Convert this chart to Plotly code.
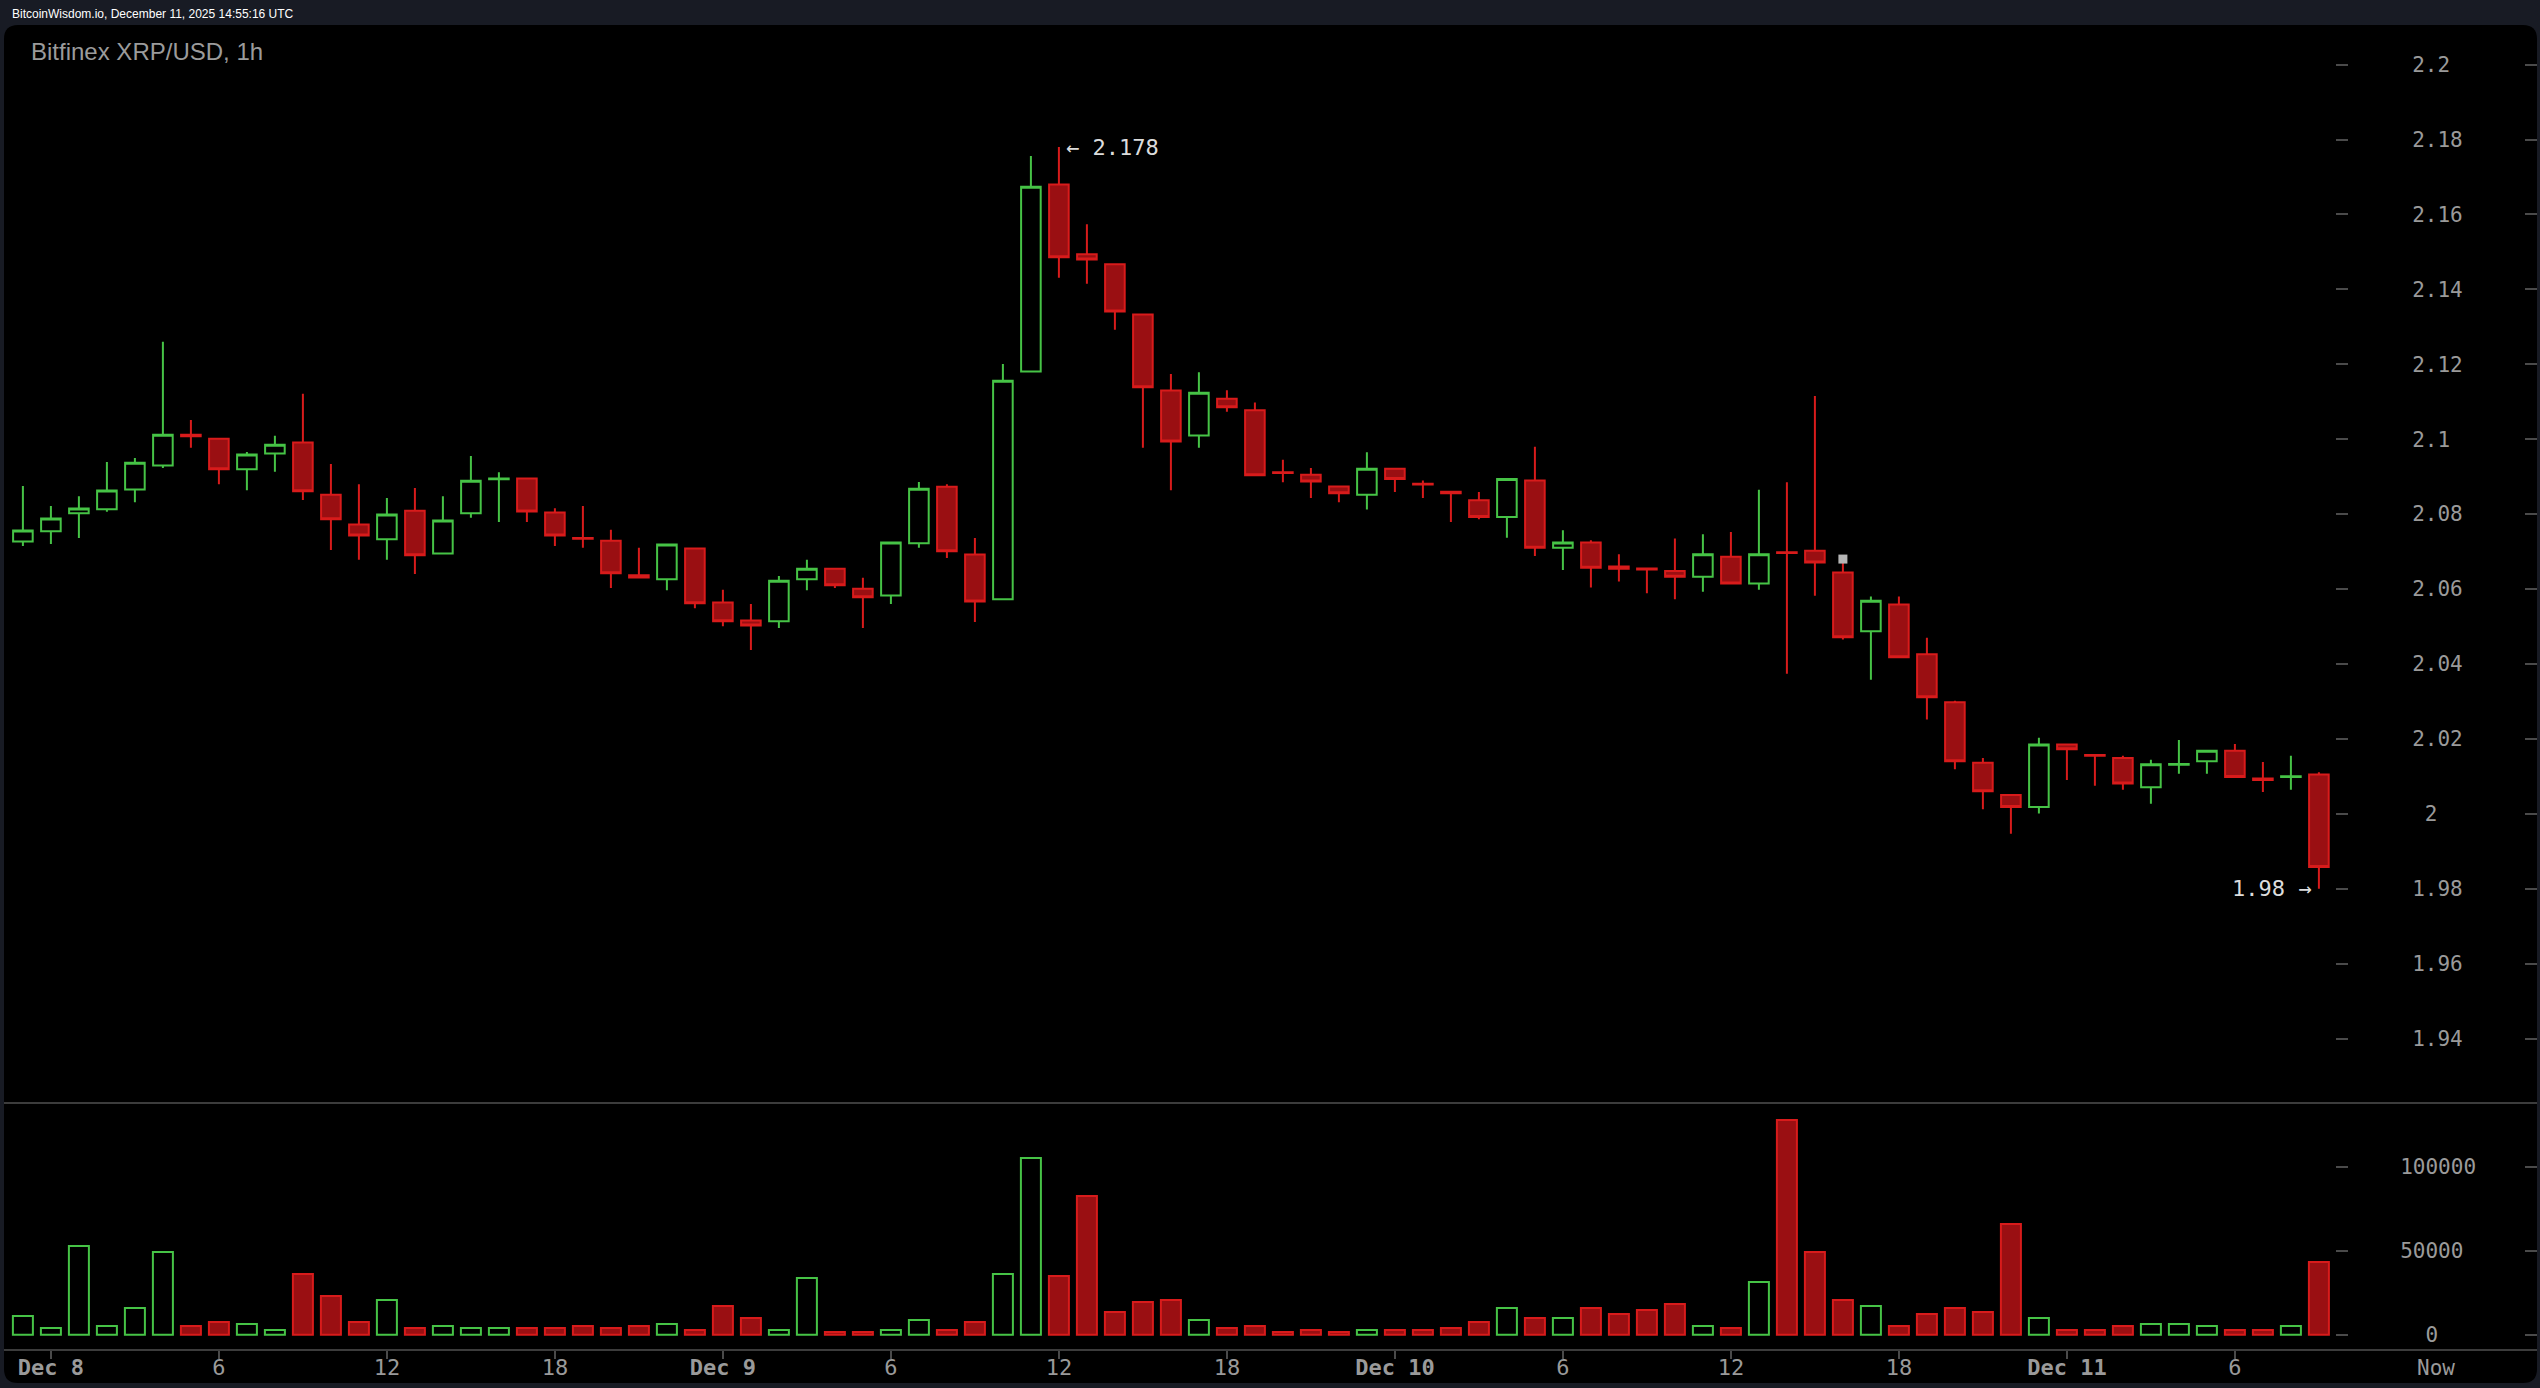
import plotly.graph_objects as go
import pandas as pd

# ---------------- data ----------------
START = "2025-12-07 23:00"
opens = [2.0727, 2.0754, 2.0802, 2.0813, 2.0866, 2.0930, 2.1012, 2.1001, 2.0920, 2.0962,
         2.0991, 2.0852, 2.0772, 2.0733, 2.0809, 2.0695, 2.0802, 2.0893, 2.0895, 2.0804,
         2.0736, 2.0729, 2.0637, 2.0626, 2.0708, 2.0564, 2.0516, 2.0514, 2.0626, 2.0654,
         2.0601, 2.0583, 2.0722, 2.0873, 2.0692, 2.0573, 2.1181, 2.1680, 2.1494, 2.1467,
         2.1333, 2.1130, 2.1010, 2.1108, 2.1077, 2.0912, 2.0905, 2.0874, 2.0852, 2.0921,
         2.0881, 2.0860, 2.0837, 2.0792, 2.0890, 2.0710, 2.0724, 2.0660, 2.0655, 2.0648,
         2.0633, 2.0686, 2.0615, 2.0698, 2.0702, 2.0644, 2.0487, 2.0559, 2.0426, 2.0298,
         2.0136, 2.0050, 2.0018, 2.0185, 2.0157, 2.0149, 2.0071, 2.0131, 2.0140, 2.0168,
         2.0094, 2.0098, 2.0105]
highs = [2.0875, 2.0822, 2.0848, 2.0939, 2.0950, 2.1260, 2.1051, 2.1001, 2.0966, 2.1009,
         2.1121, 2.0934, 2.0880, 2.0843, 2.0870, 2.0848, 2.0955, 2.0912, 2.0896, 2.0816,
         2.0822, 2.0758, 2.0710, 2.0719, 2.0709, 2.0598, 2.0560, 2.0635, 2.0678, 2.0655,
         2.0630, 2.0725, 2.0886, 2.0880, 2.0736, 2.1201, 2.1756, 2.1780, 2.1574, 2.1468,
         2.1334, 2.1174, 2.1179, 2.1131, 2.1098, 2.0945, 2.0923, 2.0875, 2.0965, 2.0922,
         2.0890, 2.0861, 2.0859, 2.0894, 2.0980, 2.0757, 2.0730, 2.0693, 2.0656, 2.0735,
         2.0746, 2.0752, 2.0865, 2.0885, 2.1115, 2.0684, 2.0580, 2.0580, 2.0470, 2.0302,
         2.0149, 2.0051, 2.0203, 2.0186, 2.0158, 2.0155, 2.0144, 2.0197, 2.0169, 2.0186,
         2.0138, 2.0155, 2.0111]
lows = [2.0715, 2.0720, 2.0736, 2.0806, 2.0832, 2.0923, 2.0977, 2.0880, 2.0864, 2.0913,
        2.0838, 2.0704, 2.0678, 2.0678, 2.0640, 2.0693, 2.0790, 2.0779, 2.0779, 2.0715,
        2.0710, 2.0603, 2.0630, 2.0597, 2.0549, 2.0501, 2.0437, 2.0496, 2.0597, 2.0603,
        2.0496, 2.0560, 2.0710, 2.0683, 2.0512, 2.0572, 2.1180, 2.1431, 2.1415, 2.1292,
        2.0977, 2.0864, 2.0977, 2.1073, 2.0903, 2.0885, 2.0843, 2.0832, 2.0812, 2.0859,
        2.0843, 2.0779, 2.0786, 2.0737, 2.0688, 2.0651, 2.0604, 2.0620, 2.0589, 2.0573,
        2.0593, 2.0615, 2.0598, 2.0374, 2.0582, 2.0465, 2.0358, 2.0418, 2.0252, 2.0119,
        2.0012, 1.9947, 2.0001, 2.0090, 2.0075, 2.0064, 2.0027, 2.0107, 2.0107, 2.0097,
        2.0058, 2.0064, 1.9800]
closes = [2.0756, 2.0788, 2.0815, 2.0863, 2.0937, 2.1012, 2.1008, 2.0920, 2.0959, 2.0985,
          2.0861, 2.0786, 2.0743, 2.0799, 2.0690, 2.0783, 2.0889, 2.0895, 2.0807, 2.0743,
          2.0734, 2.0642, 2.0631, 2.0719, 2.0562, 2.0514, 2.0503, 2.0622, 2.0654, 2.0610,
          2.0578, 2.0724, 2.0868, 2.0701, 2.0567, 2.1156, 2.1674, 2.1486, 2.1480, 2.1341,
          2.1139, 2.0994, 2.1124, 2.1085, 2.0904, 2.0910, 2.0887, 2.0856, 2.0921, 2.0894,
          2.0879, 2.0856, 2.0792, 2.0894, 2.0710, 2.0724, 2.0657, 2.0654, 2.0652, 2.0633,
          2.0693, 2.0615, 2.0693, 2.0696, 2.0671, 2.0471, 2.0569, 2.0418, 2.0311, 2.0140,
          2.0060, 2.0018, 2.0185, 2.0172, 2.0155, 2.0081, 2.0132, 2.0133, 2.0168, 2.0098,
          2.0090, 2.0100, 1.9858]
volumes = [11100, 3970, 52770, 5160, 15870, 49200, 5160, 7540, 6350, 2780,
           36110, 23010, 7540, 20630, 3970, 5160, 3970, 3970, 3970, 3970,
           5160, 3970, 5160, 6350, 2780, 17060, 9920, 2780, 33730, 1590,
           1590, 2780, 8730, 2780, 7540, 36110, 105150, 34920, 82530, 13490,
           19440, 20630, 8730, 3970, 5160, 1590, 2780, 1590, 2780, 2780,
           2780, 3970, 7540, 15870, 9920, 9920, 15870, 12300, 14680, 18250,
           5160, 3970, 31350, 127770, 49200, 20630, 17060, 5160, 12300, 15870,
           13490, 65870, 9920, 2780, 2780, 5160, 6350, 6350, 5160, 2780,
           2780, 5160, 43250]
times = pd.date_range(START, periods=len(opens), freq="h")

# marker (grey square) shown above one candle
marker_times = [times[65]]
marker_prices = [2.0680]

price_ticks = [1.94, 1.96, 1.98, 2.00, 2.02, 2.04, 2.06, 2.08, 2.10, 2.12, 2.14, 2.16, 2.18, 2.20]
price_tick_labels = ["1.94", "1.96", "1.98", "\u00a02", "2.02", "2.04", "2.06", "2.08",
                     "2.1", "2.12", "2.14", "2.16", "2.18", "2.2"]
vol_ticks = [0, 50000, 100000]
vol_tick_labels = ["\u00a0\u00a00", "50000", "100000"]
time_ticks = pd.date_range("2025-12-08 00:00", "2025-12-11 06:00", freq="6h")
time_tick_labels = ["<b>Dec 8</b>", "6", "12", "18", "<b>Dec 9</b>", "6", "12", "18",
                    "<b>Dec 10</b>", "6", "12", "18", "<b>Dec 11</b>", "6"]

# ---------------- layout helpers (pixels) ----------------
W, H = 2540, 1388
def px(x):
    return x / W
def py(y):
    return 1 - y / H

T0 = times[0]
X0_PX, HOUR_PX = 22.9, 28.0
def t_at(xpx):
    return T0 + pd.Timedelta(hours=(xpx - X0_PX) / HOUR_PX)

def price_at(ypx):
    return 2.2 - (ypx - 64.6) / 3746.0

def vol_at(ypx):
    return (1334.7 - ypx) * 595.24

PLOT_L, PLOT_R = 5, 2335
PRICE_TOP, SEP_Y, VOL_BOT = 26, 1103, 1350

GREEN = "#46c346"
RED_LINE = "#d81b1b"
RED_FILL = "#9a0f12"
GREY_TXT = "#9a9a9a"
TICK_COL = "#4a4a4a"
MONO = "DejaVu Sans Mono"

up = [c >= o for o, c in zip(opens, closes)]

fig = go.Figure()
fig.add_trace(go.Candlestick(
    x=times, open=opens, high=highs, low=lows, close=closes,
    increasing=dict(line=dict(color=GREEN, width=2), fillcolor="rgba(0,0,0,0)"),
    decreasing=dict(line=dict(color=RED_LINE, width=2), fillcolor=RED_FILL),
    whiskerwidth=0, xaxis="x", yaxis="y", showlegend=False, hoverinfo="x+y",
))
fig.add_trace(go.Scatter(
    x=marker_times, y=marker_prices, mode="markers", xaxis="x", yaxis="y",
    marker=dict(symbol="square", size=9, color="#b5b5b5"), showlegend=False, hoverinfo="skip",
))
# invisible helpers so the mirrored tick columns get drawn
fig.add_trace(go.Scatter(x=[times[0]], y=[closes[0]], mode="markers", xaxis="x", yaxis="y3",
                         marker=dict(opacity=0), showlegend=False, hoverinfo="skip"))
fig.add_trace(go.Bar(
    x=times, y=volumes, xaxis="x2", yaxis="y2",
    width=[0.714 * 3600000] * len(volumes),
    marker=dict(color=["rgba(0,0,0,0)" if u else RED_FILL for u in up],
                line=dict(color=[GREEN if u else RED_LINE for u in up], width=2)),
    showlegend=False, hoverinfo="x+y",
))
fig.add_trace(go.Scatter(x=[times[0]], y=[volumes[0]], mode="markers", xaxis="x2", yaxis="y4",
                         marker=dict(opacity=0), showlegend=False, hoverinfo="skip"))

xrange = [t_at(PLOT_L), t_at(PLOT_R)]
common_y = dict(showgrid=False, zeroline=False, showline=False, ticks="outside", ticklen=12,
                tickwidth=2, tickcolor=TICK_COL, fixedrange=True, automargin=False)

fig.update_layout(
    width=W, height=H,
    margin=dict(l=0, r=0, t=0, b=0, pad=0),
    paper_bgcolor="#181b24",
    plot_bgcolor="rgba(0,0,0,0)",
    boxgap=0.3, boxgroupgap=0,
    showlegend=False,
    xaxis=dict(domain=[px(PLOT_L), px(PLOT_R)], range=xrange, type="date", anchor="y",
               showticklabels=False, showgrid=False, zeroline=False, showline=False, ticks="",
               rangeslider=dict(visible=False), fixedrange=True),
    xaxis2=dict(domain=[px(PLOT_L), px(PLOT_R)], range=xrange, type="date", anchor="y2",
                tickvals=time_ticks, ticktext=time_tick_labels, ticks="outside", ticklen=8,
                tickwidth=2, tickcolor=TICK_COL, showgrid=False, zeroline=False, showline=False,
                tickfont=dict(family=MONO, size=22, color=GREY_TXT), ticklabelstandoff=-10,
                fixedrange=True, automargin=False),
    yaxis=dict(domain=[py(SEP_Y), py(PRICE_TOP)], range=[price_at(SEP_Y), price_at(PRICE_TOP)],
               anchor="x", side="right", tickvals=price_ticks, ticktext=price_tick_labels,
               tickfont=dict(family=MONO, size=21, color=GREY_TXT), ticklabelstandoff=60,
               **common_y),
    yaxis3=dict(overlaying="y", anchor="free", position=px(2524), side="right",
                range=[price_at(SEP_Y), price_at(PRICE_TOP)], tickvals=price_ticks,
                showticklabels=False, **common_y),
    yaxis2=dict(domain=[py(VOL_BOT), py(SEP_Y)], range=[vol_at(VOL_BOT), vol_at(SEP_Y)],
                anchor="x2", side="right", tickvals=vol_ticks, ticktext=vol_tick_labels,
                tickfont=dict(family=MONO, size=21, color=GREY_TXT), ticklabelstandoff=48,
                **common_y),
    yaxis4=dict(overlaying="y2", anchor="free", position=px(2524), side="right",
                range=[vol_at(VOL_BOT), vol_at(SEP_Y)], tickvals=vol_ticks,
                showticklabels=False, **common_y),
)

# black rounded panel
def rounded(x0, y0, x1, y1, r):
    X = lambda v: f"{px(v):.6f}"
    Y = lambda v: f"{py(v):.6f}"
    return (f"M {X(x0 + r)},{Y(y0)} L {X(x1 - r)},{Y(y0)} Q {X(x1)},{Y(y0)} {X(x1)},{Y(y0 + r)} "
            f"L {X(x1)},{Y(y1 - r)} Q {X(x1)},{Y(y1)} {X(x1 - r)},{Y(y1)} "
            f"L {X(x0 + r)},{Y(y1)} Q {X(x0)},{Y(y1)} {X(x0)},{Y(y1 - r)} "
            f"L {X(x0)},{Y(y0 + r)} Q {X(x0)},{Y(y0)} {X(x0 + r)},{Y(y0)} Z")

fig.add_shape(type="path", path=rounded(4, 25, 2537, 1383, 14), xref="paper", yref="paper",
              fillcolor="#000000", line=dict(width=0), layer="below")
for ysep in (SEP_Y, VOL_BOT):
    fig.add_shape(type="line", xref="paper", yref="paper", x0=px(4), x1=px(2537),
                  y0=py(ysep), y1=py(ysep), line=dict(color="#3c3c3c", width=2), layer="below")

# texts
fig.add_annotation(text="BitcoinWisdom.io, December 11, 2025 14:55:16 UTC", xref="paper", yref="paper",
                   x=px(10), y=py(14), xanchor="left", yanchor="middle", showarrow=False,
                   font=dict(family="Liberation Sans", size=12, color="#ffffff"))
fig.add_annotation(text="Bitfinex XRP/USD, 1h", xref="paper", yref="paper",
                   x=px(29), y=py(52), xanchor="left", yanchor="middle", showarrow=False,
                   font=dict(family="Liberation Sans", size=24, color="#9b9b9b"))
i_hi = highs.index(max(highs))
i_lo = lows.index(min(lows))
fig.add_annotation(text=f"\u2190 {max(highs):.3f}", x=times[i_hi], y=max(highs), xref="x", yref="y",
                   xanchor="left", yanchor="middle", xshift=5, showarrow=False,
                   font=dict(family=MONO, size=22, color="#dcdcdc"))
fig.add_annotation(text=f"{min(lows):g} \u2192", x=times[i_lo], y=min(lows), xref="x", yref="y",
                   xanchor="right", yanchor="middle", xshift=-6, showarrow=False,
                   font=dict(family=MONO, size=22, color="#dcdcdc"))
fig.add_annotation(text="Now", xref="paper", yref="paper", x=px(2436), y=py(1368),
                   xanchor="center", yanchor="middle", showarrow=False,
                   font=dict(family=MONO, size=21, color=GREY_TXT))

fig.write_html("out.html", config={"displayModeBar": False},
               post_script="document.body.style.margin='0';document.body.style.background='#181b24';")
